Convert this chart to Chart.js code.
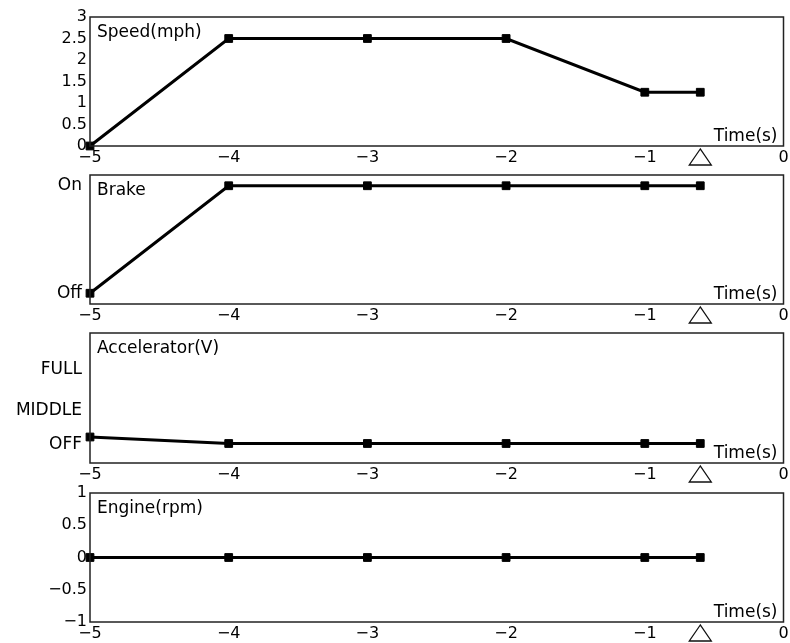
<!DOCTYPE html>
<html>
<head>
<meta charset="utf-8">
<script src="https://cdn.jsdelivr.net/npm/chart.js@4.4.1/dist/chart.umd.min.js"></script>
<style>
  html, body { margin: 0; padding: 0; background: #fff; }
  #wrap { position: relative; width: 790px; height: 643px; overflow: hidden; }
  canvas { position: absolute; left: 0; }
</style>
</head>
<body>
<div id="wrap">
  <canvas id="speedChart" width="790" height="159" style="top:7px"></canvas>
  <canvas id="brakeChart" width="790" height="159" style="top:165px"></canvas>
  <canvas id="accelChart" width="790" height="160" style="top:323px"></canvas>
  <canvas id="engineChart" width="790" height="159" style="top:483px"></canvas>
</div>
<script>
(() => {
    'use strict'

    // data
    const time = [-5, -4, -3, -2, -1, -0.6]
    const speed = [0, 2.5, 2.5, 2.5, 1.25, 1.25]
    const brake = [0, 1, 1, 1, 1, 1]
    const accel = [1.0, 0.75, 0.75, 0.75, 0.75, 0.75]
    const engine = [0, 0, 0, 0, 0, 0]
    const triggerTime = -0.6

    const brakeTicks = [0, 1]
    const brakeLabels = ['Off', 'On']
    const accelTicks = [0.7, 2.0, 3.6]
    const accelLabels = ['OFF', 'MIDDLE', 'FULL']

    const FONT = 'DejaVu Sans'
    const minus = v => String(v).replace('-', '\u2212')

    // box, title, Time(s) label and trigger triangle
    const decor = {
        id: 'decor',
        afterDraw(chart, args, opts) {
            const { ctx, chartArea: a } = chart
            ctx.save()
            ctx.strokeStyle = '#222'
            ctx.lineWidth = 1.5
            ctx.strokeRect(a.left, a.top, a.right - a.left, a.bottom - a.top)

            ctx.fillStyle = '#000'
            ctx.font = '17px "' + FONT + '"'
            ctx.textBaseline = 'alphabetic'
            ctx.textAlign = 'left'
            ctx.fillText(opts.title, a.left + 7, a.top + 20)
            ctx.textAlign = 'right'
            ctx.fillText('Time(s)', a.right - 6, a.bottom - 5)

            const tx = chart.scales.x.getPixelForValue(triggerTime)
            ctx.beginPath()
            ctx.moveTo(tx, a.bottom + 3)
            ctx.lineTo(tx - 11, a.bottom + 19)
            ctx.lineTo(tx + 11, a.bottom + 19)
            ctx.closePath()
            ctx.fillStyle = '#fff'
            ctx.fill()
            ctx.lineWidth = 1.3
            ctx.strokeStyle = '#111'
            ctx.stroke()
            ctx.restore()
        }
    }

    function makeChart(id, title, values, yOpts) {
        return new Chart(document.getElementById(id), {
            type: 'line',
            data: {
                datasets: [{
                    data: time.map((t, i) => ({ x: t, y: values[i] })),
                    borderColor: '#000',
                    borderWidth: 3,
                    lineTension: 0,
                    pointStyle: 'rect',
                    pointRadius: 5.5,
                    pointBackgroundColor: '#000',
                    pointBorderColor: '#000',
                    pointBorderWidth: 1,
                    clip: false
                }]
            },
            options: {
                responsive: false,
                animation: false,
                events: [],
                layout: { padding: { top: 10, right: 5, left: 0, bottom: 0 } },
                plugins: {
                    legend: { display: false },
                    tooltip: { enabled: false },
                    decor: { title: title }
                },
                scales: {
                    x: {
                        type: 'linear',
                        min: -5,
                        max: 0,
                        grid: { display: false, drawTicks: false },
                        border: { display: false },
                        ticks: {
                            stepSize: 1,
                            padding: 2,
                            color: '#000',
                            font: { family: FONT, size: 16 },
                            maxRotation: 0,
                            autoSkip: false,
                            callback: v => minus(v)
                        },
                        afterFit: s => {
                            s.height = 20
                            s.paddingLeft = 0
                            s.paddingRight = 0
                        }
                    },
                    y: Object.assign({
                        grid: { display: false, drawTicks: false },
                        border: { display: false },
                        afterFit: s => {
                            s.width = 90
                            s.paddingTop = 0
                            s.paddingBottom = 0
                        }
                    }, yOpts)
                }
            },
            plugins: [decor]
        })
    }

    makeChart('speedChart', 'Speed(mph)', speed, {
        min: 0,
        max: 3,
        ticks: {
            stepSize: 0.5,
            padding: 3,
            autoSkip: false,
            color: '#000',
            font: { family: FONT, size: 16 },
            callback: v => minus(v)
        }
    })

    makeChart('brakeChart', 'Brake', brake, {
        min: -0.1,
        max: 1.1,
        afterBuildTicks: s => { s.ticks = brakeTicks.map(v => ({ value: v })) },
        ticks: {
            padding: 8,
            autoSkip: false,
            color: '#000',
            font: { family: FONT, size: 17 },
            callback: v => brakeLabels[brakeTicks.indexOf(v)]
        }
    })

    makeChart('accelChart', 'Accelerator(V)', accel, {
        min: 0,
        max: 5,
        afterBuildTicks: s => { s.ticks = accelTicks.map(v => ({ value: v })) },
        ticks: {
            padding: 8,
            autoSkip: false,
            color: '#000',
            font: { family: FONT, size: 17 },
            callback: v => accelLabels[accelTicks.indexOf(v)]
        }
    })

    makeChart('engineChart', 'Engine(rpm)', engine, {
        min: -1,
        max: 1,
        ticks: {
            stepSize: 0.5,
            padding: 3,
            autoSkip: false,
            color: '#000',
            font: { family: FONT, size: 16 },
            callback: v => minus(v)
        }
    })
})()
</script>
</body>
</html>
